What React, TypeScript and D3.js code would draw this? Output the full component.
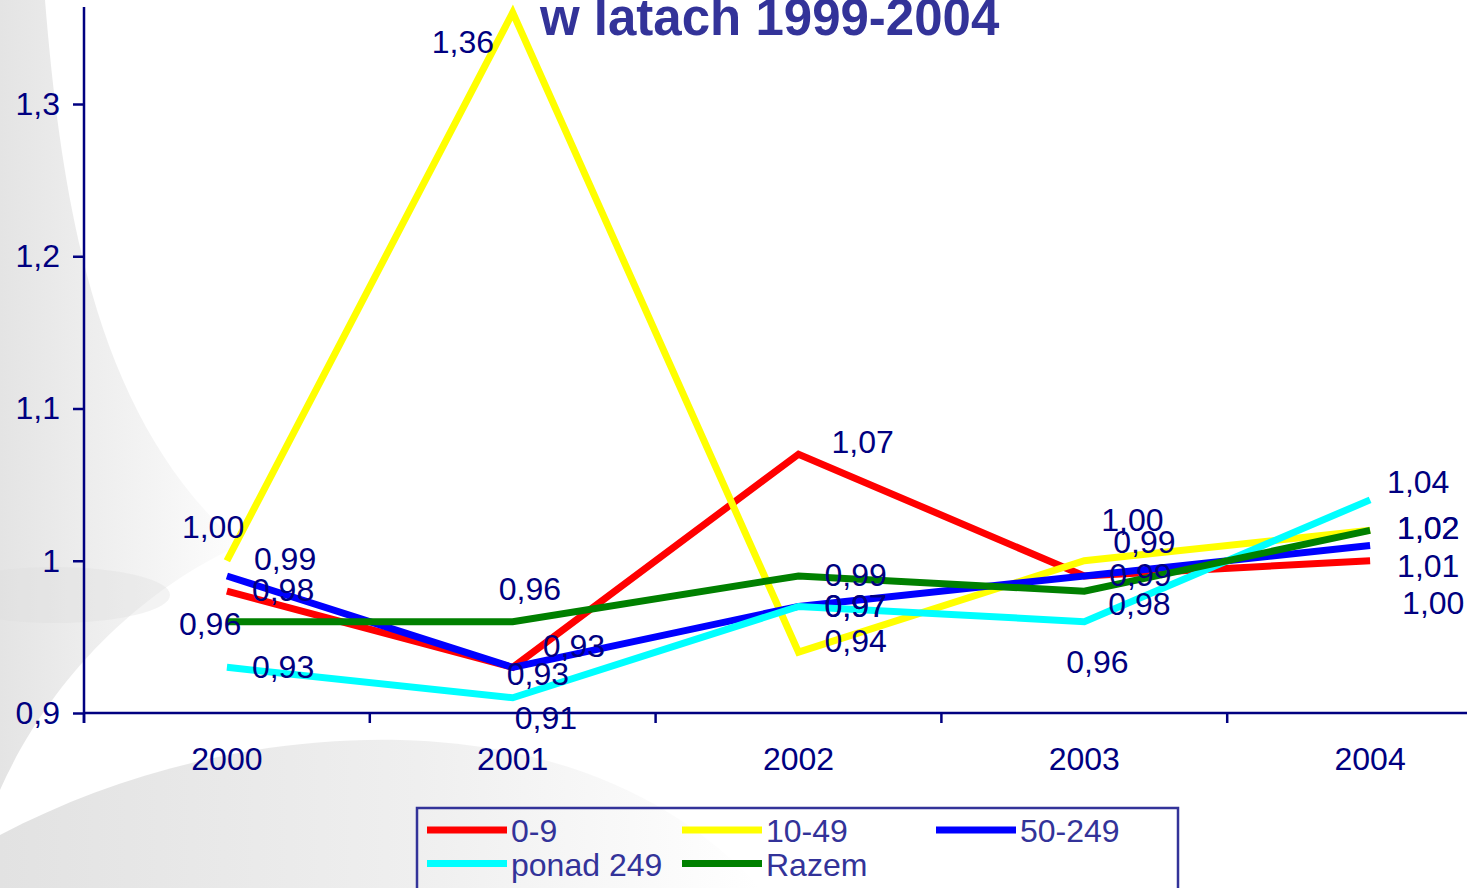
// Externals
import * as d3 from 'd3'
import React, { useEffect, useRef } from 'react'

// Chart data
const years = ['2000', '2001', '2002', '2003', '2004']
const seriesNames = ['0-9', '10-49', '50-249', 'ponad 249', 'Razem']
const values09 = [0.98, 0.93, 1.07, 0.99, 1.0]
const values1049 = [1.0, 1.36, 0.94, 1.0, 1.02]
const values50249 = [0.99, 0.93, 0.97, 0.99, 1.01]
const valuesPonad249 = [0.93, 0.91, 0.97, 0.96, 1.04]
const valuesRazem = [0.96, 0.96, 0.99, 0.98, 1.02]
const yTicks = [0.9, 1.0, 1.1, 1.2, 1.3]
const yTickLabels = ['0,9', '1', '1,1', '1,2', '1,3']
const title = 'w latach 1999-2004'

const seriesValues = [values09, values1049, values50249, valuesPonad249, valuesRazem]
const seriesColors = ['#ff0000', '#ffff00', '#0000ff', '#00ffff', '#008000']

// Label nudges (dx to left edge of text, dy to its middle), as placed in the original
const labelNudges = [
  [[25, -2], [30, -22], [33, -13], [25, -1], [32, 42]],
  [[-45, -34], [-81, 29], [26, -12], [17, -41], [27, -3]],
  [[27, -17], [-6, 6], [26, -1], [29, -34], [27, 20]],
  [[25, -1], [2, 20], [26, -1], [-18, 40], [17, -18]],
  [[-48, 2], [-14, -33], [26, -1], [24, 12], [27, -3]],
]

const FONT = '"Liberation Sans", Arial, sans-serif'
const NAVY = '#000080'
const TITLE_BLUE = '#333399'

const fmt = (v: number) => d3.format('.2f')(v).replace('.', ',')

const App = () => {
  const svgRef = useRef<any>(null)

  useEffect(() => {
    if (!svgRef.current) return

    const width = 1467
    const height = 888
    const svg = d3.select(svgRef.current)
    svg.selectAll('*').remove()
    svg.attr('width', width).attr('height', height)

    // Background swooshes (faint grey, as in the slide template)
    const defs = svg.append('defs')
    const g1 = defs.append('linearGradient').attr('id', 'swoosh-left')
      .attr('x1', '0').attr('y1', '0').attr('x2', '1').attr('y2', '0')
    g1.append('stop').attr('offset', '0%').attr('stop-color', '#e4e4e4')
    g1.append('stop').attr('offset', '100%').attr('stop-color', '#fdfdfd')
    const g2 = defs.append('linearGradient').attr('id', 'swoosh-bottom')
      .attr('x1', '0').attr('y1', '0').attr('x2', '1').attr('y2', '0')
    g2.append('stop').attr('offset', '0%').attr('stop-color', '#e2e2e2')
    g2.append('stop').attr('offset', '55%').attr('stop-color', '#efefef')
    g2.append('stop').attr('offset', '100%').attr('stop-color', '#ffffff')

    svg.append('rect').attr('width', width).attr('height', height).attr('fill', '#ffffff')
    svg.append('path')
      .attr('d', 'M0,0 L45,0 C65,250 110,430 240,545 C120,600 40,700 0,790 Z')
      .attr('fill', 'url(#swoosh-left)')
    svg.append('ellipse')
      .attr('cx', 55).attr('cy', 595).attr('rx', 115).attr('ry', 28)
      .attr('fill', '#dcdcdc').attr('opacity', 0.35)
    svg.append('path')
      .attr('d', 'M0,888 L0,835 C120,772 260,737 400,740 C560,744 680,800 760,888 Z')
      .attr('fill', 'url(#swoosh-bottom)')

    // Scales
    const x = d3.scaleBand().domain(years).range([84, 1513]).padding(0)
    const y = d3.scaleLinear().domain([0.9, 1.3]).range([713, 104])
    const cx = (d: string) => (x(d) as number) + x.bandwidth() / 2

    // Y axis
    const yAxis = svg.append('g')
      .attr('transform', 'translate(84,0)')
      .call(
        d3.axisLeft(y)
          .tickValues(yTicks)
          .tickSize(11)
          .tickPadding(13)
          .tickFormat((d, i) => yTickLabels[i])
      )
    yAxis.select('.domain').remove()
    yAxis.selectAll('line').attr('stroke', NAVY).attr('stroke-width', 2.5)
    yAxis.selectAll('text')
      .attr('fill', NAVY)
      .attr('font-family', FONT)
      .attr('font-size', 32)

    svg.append('line')
      .attr('x1', 84).attr('x2', 84).attr('y1', 7).attr('y2', 723)
      .attr('stroke', NAVY).attr('stroke-width', 2.5)

    // X axis
    const xAxis = svg.append('g')
      .attr('transform', 'translate(0,713)')
      .call(d3.axisBottom(x).tickSize(0).tickPadding(34))
    xAxis.select('.domain').remove()
    xAxis.selectAll('text')
      .attr('fill', NAVY)
      .attr('font-family', FONT)
      .attr('font-size', 32)

    svg.append('line')
      .attr('x1', 84).attr('x2', width).attr('y1', 713).attr('y2', 713)
      .attr('stroke', NAVY).attr('stroke-width', 2.5)

    svg.selectAll('.x-tick')
      .data(years)
      .enter()
      .append('line')
      .attr('class', 'x-tick')
      .attr('x1', (d) => x(d) as number)
      .attr('x2', (d) => x(d) as number)
      .attr('y1', 713)
      .attr('y2', 723)
      .attr('stroke', NAVY)
      .attr('stroke-width', 2.5)

    // Lines
    const line = d3.line<number>()
      .x((d, i) => cx(years[i]))
      .y((d) => y(d))

    svg.selectAll('.series-line')
      .data(seriesValues)
      .enter()
      .append('path')
      .attr('class', 'series-line')
      .attr('d', (d) => line(d))
      .attr('fill', 'none')
      .attr('stroke', (d, i) => seriesColors[i])
      .attr('stroke-width', 7)
      .attr('stroke-linejoin', 'miter')

    // Data labels
    seriesValues.forEach((vals, s) => {
      svg.selectAll(`.label-${s}`)
        .data(vals)
        .enter()
        .append('text')
        .attr('class', `label-${s}`)
        .attr('x', (d, i) => cx(years[i]) + labelNudges[s][i][0])
        .attr('y', (d, i) => y(d) + labelNudges[s][i][1] + 11.5)
        .attr('fill', NAVY)
        .attr('font-family', FONT)
        .attr('font-size', 32)
        .text((d) => fmt(d))
    })

    // Title (cut at the top edge, as in the original)
    svg.append('text')
      .attr('x', 540)
      .attr('y', 35)
      .attr('fill', TITLE_BLUE)
      .attr('font-family', FONT)
      .attr('font-weight', 'bold')
      .attr('font-size', 51)
      .text(title)

    // Legend
    svg.append('rect')
      .attr('x', 417).attr('y', 808).attr('width', 761).attr('height', 100)
      .attr('fill', 'none')
      .attr('stroke', TITLE_BLUE)
      .attr('stroke-width', 2.5)

    const legendX = [427, 682, 936]
    const legendY = [830, 863.5]
    const items = svg.selectAll('.legend-item')
      .data(seriesNames)
      .enter()
      .append('g')
      .attr('class', 'legend-item')
      .attr('transform', (d, i) => `translate(${legendX[i % 3]},${legendY[Math.floor(i / 3)]})`)
    items.append('line')
      .attr('x1', 0).attr('x2', 80).attr('y1', 0).attr('y2', 0)
      .attr('stroke', (d, i) => seriesColors[i])
      .attr('stroke-width', 7)
    items.append('text')
      .attr('x', 84)
      .attr('y', 12)
      .attr('fill', TITLE_BLUE)
      .attr('font-family', FONT)
      .attr('font-size', 32)
      .text((d) => d)
  }, [])

  return (
    <svg
      ref={svgRef}
      style={{ position: 'absolute', left: 0, top: 0, display: 'block' }}
    />
  )
}

export default App
